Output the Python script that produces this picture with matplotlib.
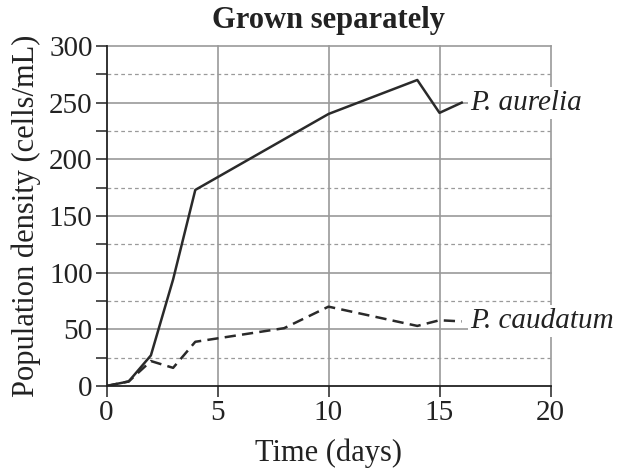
import matplotlib
matplotlib.use("Agg")
import matplotlib.pyplot as plt

days_aurelia = [0, 1, 2, 3, 4, 10, 14, 15, 16]
aurelia = [0, 4, 27, 94, 173, 240, 270, 241, 250]
days_caudatum = [0, 1, 2, 3, 4, 8, 10, 14, 15, 16]
caudatum = [0, 4, 22, 16, 39, 51, 70, 53, 58, 57]
x_ticks = [0, 5, 10, 15, 20]
y_major = [0, 50, 100, 150, 200, 250, 300]
y_minor = [25, 75, 125, 175, 225, 275]

plt.rcParams['font.family'] = ['Liberation Serif', 'DejaVu Serif']

fig = plt.figure(figsize=(6.25, 4.75), dpi=100)
ax = fig.add_axes([0.1704, 0.1874, 0.7104, 0.7158])

ax.set_xlim(0, 20)
ax.set_ylim(0, 300)
ax.set_xticks(x_ticks)
ax.set_yticks(y_major)
ax.set_yticks(y_minor, minor=True)
ax.set_xticklabels([str(v) for v in x_ticks])
ax.set_yticklabels([str(v) for v in y_major])

for y in y_major[1:]:
    ax.axhline(y, color='#9a9a9a', lw=1.2, zorder=1, clip_on=False)
for y in y_minor:
    ax.axhline(y, color='#9a9a9a', lw=0.9, ls=(0, (3, 2.5)), zorder=1)
for x in x_ticks[1:]:
    ax.axvline(x, color='#9a9a9a', lw=1.2, zorder=1, clip_on=False)

ax.plot(days_aurelia, aurelia, color='#2a2a2a', lw=1.8, zorder=3)
ax.plot(days_caudatum, caudatum, color='#2a2a2a', lw=1.8, ls=(0, (4.5, 2.5)), zorder=3)

bbox = dict(facecolor='white', edgecolor='none', pad=2)
ax.text(16.4, 250, 'P. aurelia', fontsize=21, style='italic', va='center', ha='left',
        color='#222222', bbox=bbox, zorder=4, clip_on=False)
ax.text(16.4, 57, 'P. caudatum', fontsize=21, style='italic', va='center', ha='left',
        color='#222222', bbox=bbox, zorder=4, clip_on=False)

for s in ['top', 'right']:
    ax.spines[s].set_visible(False)
for s in ['left', 'bottom']:
    ax.spines[s].set_color('#222222')
    ax.spines[s].set_linewidth(1.3)
    ax.spines[s].set_zorder(5)

ax.tick_params(axis='both', which='major', length=8, width=1.2, color='#333333',
               labelsize=21, labelcolor='#222222', pad=2)
ax.tick_params(axis='y', which='minor', length=8, width=1.2, color='#333333')

ax.set_xlabel('Time (days)', fontsize=22, color='#222222', labelpad=9)
ax.set_ylabel('Population density (cells/mL)', fontsize=22, color='#222222', labelpad=6)
ax.set_title('Grown separately', fontsize=22, fontweight='bold', color='#222222', pad=13)

fig.savefig('out.png', dpi=100)
